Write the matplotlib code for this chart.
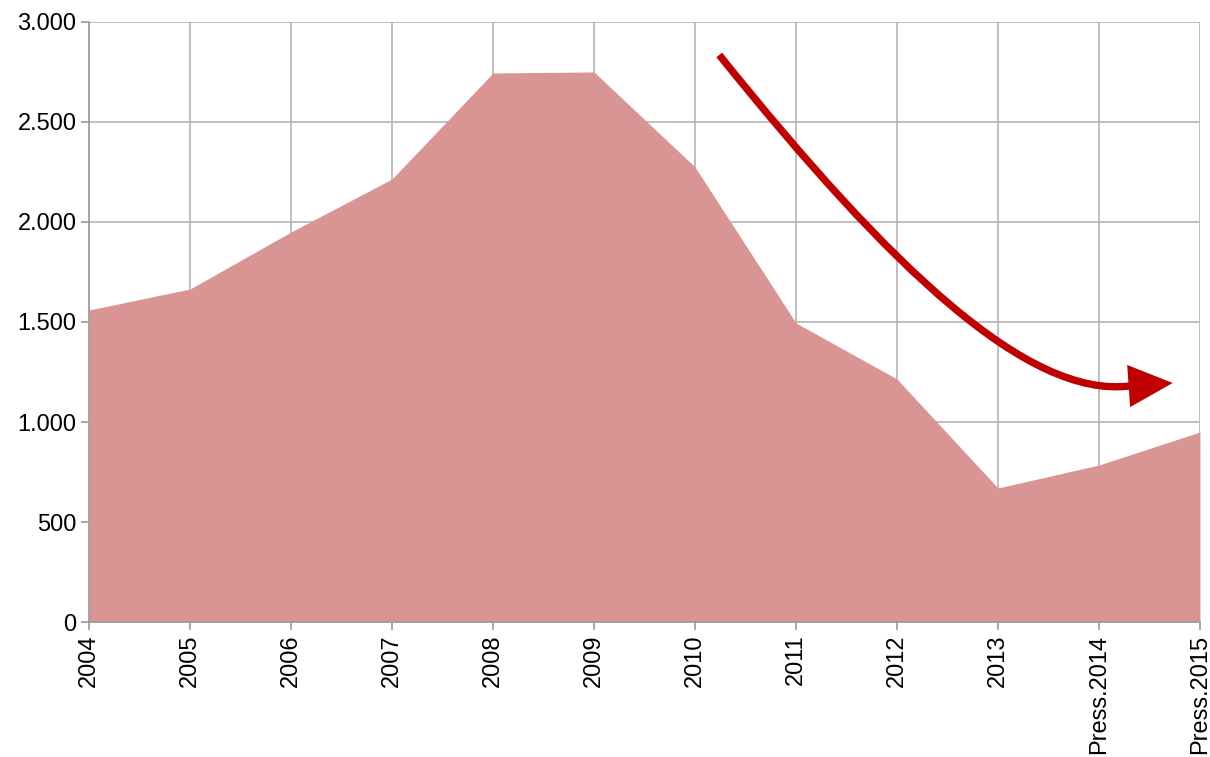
import matplotlib.pyplot as plt
import numpy as np
from matplotlib.path import Path
from matplotlib.patches import FancyArrowPatch

plt.rcParams['font.family'] = ['Liberation Sans', 'DejaVu Sans']

# data
years = ['2004', '2005', '2006', '2007', '2008', '2009', '2010', '2011',
         '2012', '2013', 'Press.2014', 'Press.2015']
values = [1560, 1665, 1950, 2215, 2745, 2750, 2275, 1495, 1215, 670, 785, 950]
yticks = [0, 500, 1000, 1500, 2000, 2500, 3000]

fill_color = '#D99594'
arrow_color = '#C00000'
grid_color = '#B4B4B4'
fs = 17

fig = plt.figure(figsize=(12.1, 7.57), dpi=100)
ax = fig.add_axes([0.0736, 0.1783, 0.9181, 0.7927])

x = np.arange(len(years))
ax.fill_between(x, 0, values, color=fill_color, lw=0, zorder=2)

ax.set_xlim(x[0], x[-1])
ax.set_ylim(0, 3000)
ax.set_xticks(x)
ax.set_xticklabels(years, rotation=90, fontsize=fs)
ax.set_yticks(yticks)
ax.set_yticklabels([f'{v:,}'.replace(',', '.') for v in yticks], fontsize=fs)

ax.set_axisbelow(True)
ax.grid(True, color=grid_color, lw=1.2)
for s in ['top', 'right']:
    ax.spines[s].set_visible(False)
for s in ['left', 'bottom']:
    ax.spines[s].set_color('#999999')
    ax.spines[s].set_linewidth(1.2)
ax.tick_params(axis='both', color='#999999', length=6, width=1.2,
               direction='out', pad=3)

# decorative down-trend arrow (bezier + short straight end, data coords)
verts = [(6.24, 2835), (7.95, 1760), (9.3, 1120), (10.3, 1180),
         (10.73, 1195)]
codes = [Path.MOVETO, Path.CURVE4, Path.CURVE4, Path.CURVE4, Path.LINETO]
arr = FancyArrowPatch(path=Path(verts, codes),
                      arrowstyle='-|>,head_length=23,head_width=11',
                      color=arrow_color, lw=5.3, shrinkA=0, shrinkB=0,
                      joinstyle='miter', capstyle='butt',
                      zorder=5, mutation_scale=1)
ax.add_patch(arr)

plt.savefig('out.png', dpi=100)
